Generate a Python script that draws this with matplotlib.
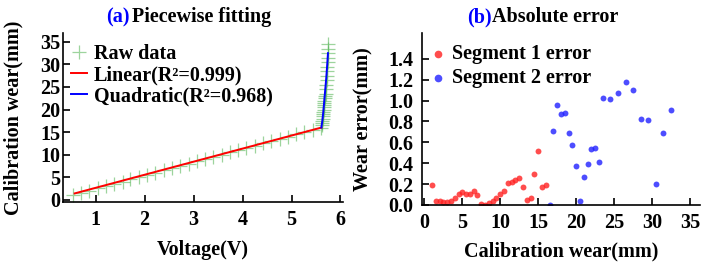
import numpy as np
import matplotlib
matplotlib.use("Agg")
import matplotlib.pyplot as plt

plt.rcParams['font.family'] = ['Liberation Serif', 'DejaVu Serif']
plt.rcParams['font.weight'] = 'bold'

# (a) raw calibration data: voltage vs wear
raw_volt = [0.53, 0.70, 0.87, 1.04, 1.21, 1.38, 1.55, 1.71, 1.88, 2.05, 2.22,
            2.39, 2.56, 2.73, 2.90, 3.07, 3.24, 3.40, 3.57, 3.74, 3.91, 4.08,
            4.25, 4.42, 4.59, 4.76, 4.92, 5.09, 5.26, 5.43, 5.60,
            5.62, 5.63, 5.63, 5.64, 5.64, 5.65, 5.65, 5.66, 5.66, 5.67, 5.67,
            5.67, 5.68, 5.68, 5.70, 5.71, 5.71, 5.72, 5.72, 5.73, 5.73, 5.74,
            5.74, 5.75, 5.75, 5.75]
raw_wear = [1, 1.5, 2, 2.5, 3, 3.5, 4, 4.5, 5, 5.5, 6, 6.5, 7, 7.5, 8, 8.5, 9,
            9.5, 10, 10.5, 11, 11.5, 12, 12.5, 13, 13.5, 14, 14.5, 15, 15.5, 16,
            16.5, 17, 17.5, 18, 18.5, 19, 19.5, 20, 20.5, 21, 21.5, 22, 22.5, 23,
            23.5, 24.5, 25.5, 26.5, 27.5, 28.5, 29.5, 30.5, 31.5, 32.5, 33.5, 34.5]
lin_volt = [0.57, 5.61]
lin_wear = [1.4, 16.0]
quad_volt = [5.61, 5.63, 5.65, 5.67, 5.69, 5.71, 5.73, 5.745]
quad_wear = [16.0, 17.5, 19.5, 22.0, 24.5, 27.0, 30.0, 32.5]

# (b) absolute error
seg1_wear = [1, 1.5, 2, 2.5, 3, 3.5, 4, 4.5, 5, 5.5, 6, 6.5, 7, 7.5, 8, 8.5, 9,
             9.5, 10, 10.5, 11, 11.5, 12, 12.5, 13, 13.5, 14, 14.5, 15, 15.5, 16]
seg1_err = [0.19, 0.04, 0.04, 0.03, 0.03, 0.04, 0.07, 0.10, 0.12, 0.10, 0.10,
            0.13, 0.09, 0.01, 0.00, 0.02, 0.04, 0.07, 0.10, 0.13, 0.21, 0.22,
            0.24, 0.26, 0.17, 0.05, 0.07, 0.30, 0.52, 0.17, 0.19]
seg2_wear = [16.5, 17, 17.5, 18, 18.5, 19, 19.5, 20, 20.5, 21, 21.5, 22, 22.5,
             23, 23.5, 24.5, 25.5, 26.5, 27.5, 28.5, 29.5, 30.5, 31.5, 32.5]
seg2_err = [0.00, 0.71, 0.96, 0.87, 0.88, 0.69, 0.57, 0.37, 0.04, 0.27, 0.39,
            0.54, 0.55, 0.41, 1.03, 1.02, 1.07, 1.18, 1.10, 0.82, 0.81, 0.20,
            0.69, 0.91]

fig = plt.figure(figsize=(7.07, 2.63), dpi=100)
ax1 = fig.add_axes([0.089, 0.232, 0.396, 0.643])
ax2 = fig.add_axes([0.597, 0.221, 0.393, 0.654])

fs = 14.5

# grafico (a)
ax1.plot(raw_volt, raw_wear, '+', color='#5cb85c', alpha=0.6, ms=10, mew=0.9,
         label='Raw data')
ax1.plot(lin_volt, lin_wear, color='red', lw=1.4, label='Linear(R²=0.999)')
ax1.plot(quad_volt, quad_wear, color='blue', lw=1.4, label='Quadratic(R²=0.968)')
ax1.set_xlim(0.33, 6.05)
ax1.set_ylim(-0.5, 37)
ax1.set_xticks([1, 2, 3, 4, 5, 6])
ax1.set_yticks([0, 5, 10, 15, 20, 25, 30, 35])
ax1.set_xlabel('Voltage(V)', fontsize=fs, fontweight='bold')
ax1.set_ylabel('Calibration wear(mm)', fontsize=fs, fontweight='bold')
ax1.xaxis.set_label_coords(0.5, -0.225)
ax1.yaxis.set_label_coords(-0.14, 0.5)
ax1.tick_params(axis='y', pad=2)
ax1.legend(loc='upper left', frameon=False, fontsize=fs, handlelength=0.8,
           handletextpad=0.35, borderaxespad=0.0, labelspacing=0.05,
           bbox_to_anchor=(0.0, 0.98))

# grafico (b)
ax2.scatter(seg1_wear, seg1_err, s=18, color='#ff2020', alpha=0.8, lw=0,
            label='Segment 1 error')
ax2.scatter(seg2_wear, seg2_err, s=18, color='#2020ff', alpha=0.8, lw=0,
            label='Segment 2 error')
ax2.set_xlim(-0.3, 36.3)
ax2.set_ylim(0, 1.65)
ax2.set_xticks([0, 5, 10, 15, 20, 25, 30, 35])
ax2.set_yticks([0.0, 0.2, 0.4, 0.6, 0.8, 1.0, 1.2, 1.4])
ax2.set_yticklabels(['0.0', '0.2', '0.4', '0.6', '0.8', '1.0', '1.2', '1.4'])
ax2.set_xlabel('Calibration wear(mm)', fontsize=fs, fontweight='bold')
ax2.set_ylabel('Wear error(mm)', fontsize=fs, fontweight='bold')
ax2.xaxis.set_label_coords(0.5, -0.21)
ax2.yaxis.set_label_coords(-0.176, 0.5)
ax2.tick_params(axis='y', pad=6)
ax2.legend(loc='upper left', frameon=False, fontsize=fs, handlelength=0.8,
           handletextpad=0.3, borderaxespad=0.0, labelspacing=0.2,
           markerscale=1.3, bbox_to_anchor=(0.0, 0.98))

for ax in (ax1, ax2):
    for s in ('top', 'right'):
        ax.spines[s].set_visible(False)
    ax.spines['left'].set_linewidth(1.2)
    ax.spines['bottom'].set_linewidth(1.2)
    ax.tick_params(direction='in', length=5, width=1.2, labelsize=fs)
    ax.tick_params(axis='x', pad=6)

# titulos
fig.text(106 / 707, 0.935, '(a)', color='blue', fontsize=fs, fontweight='bold',
         ha='left', va='center')
fig.text(132 / 707, 0.935, 'Piecewise fitting', color='black', fontsize=fs,
         fontweight='bold', ha='left', va='center')
fig.text(467 / 707, 0.935, '(b)', color='blue', fontsize=fs, fontweight='bold',
         ha='left', va='center')
fig.text(492 / 707, 0.935, 'Absolute error', color='black', fontsize=fs,
         fontweight='bold', ha='left', va='center')

fig.savefig('out.png', dpi=100)
